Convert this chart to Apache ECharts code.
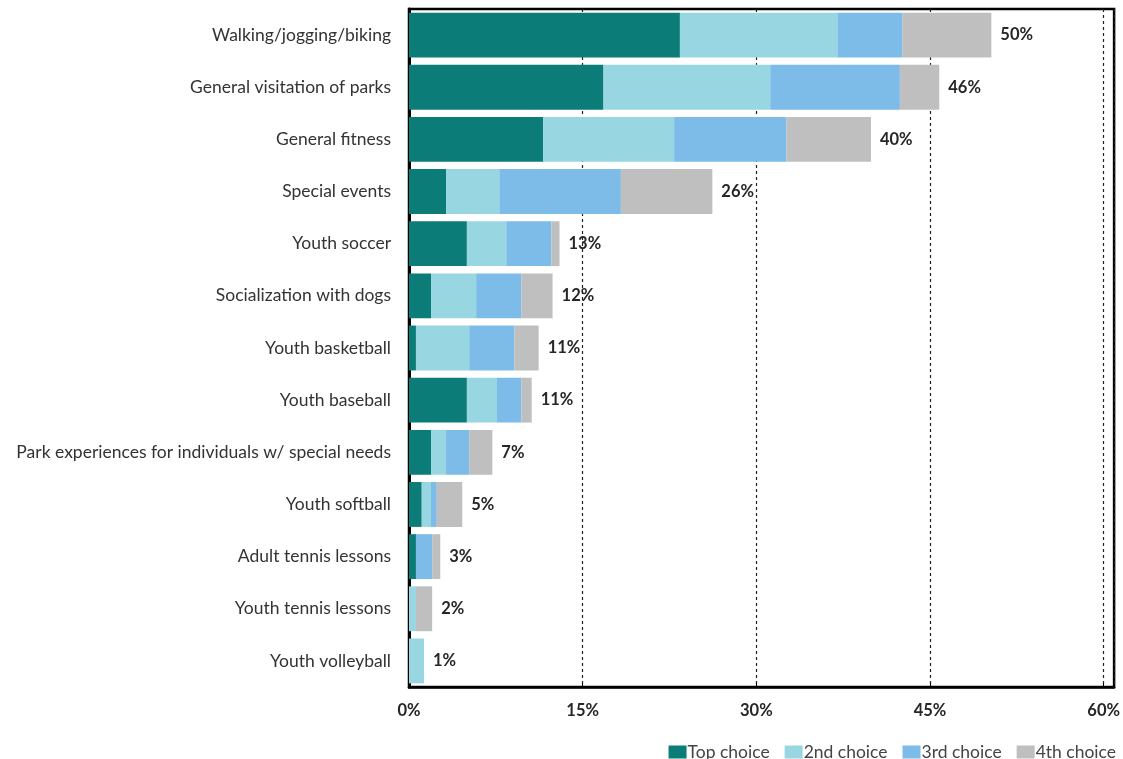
<!DOCTYPE html>
<html>
<head>
<meta charset="utf-8">
<title>Activities by preference</title>
<script src="https://cdn.jsdelivr.net/npm/echarts@6/dist/echarts.min.js"></script>
<style>
  html, body { margin: 0; padding: 0; background: #ffffff; overflow: hidden; }
  #chart { width: 1123px; height: 759px; }
</style>
</head>
<body>
<div id="chart"></div>
<script>
// Activities, listed top to bottom
const categories = [
  'Walking/jogging/biking',
  'General visitation of parks',
  'General fitness',
  'Special events',
  'Youth soccer',
  'Socialization with dogs',
  'Youth basketball',
  'Youth baseball',
  'Park experiences for individuals w/ special needs',
  'Youth softball',
  'Adult tennis lessons',
  'Youth tennis lessons',
  'Youth volleyball'
];

// Share of respondents (%) by rank of choice
const topChoice    = [23.4, 16.8, 11.6, 3.2, 5.0, 1.9, 0.6, 5.0, 1.9, 1.1, 0.6, 0.0, 0.0];
const secondChoice = [13.6, 14.4, 11.3, 4.6, 3.4, 3.9, 4.6, 2.6, 1.3, 0.8, 0.0, 0.6, 1.3];
const thirdChoice  = [ 5.6, 11.2,  9.7, 10.5, 3.9, 3.9, 3.9, 2.1, 2.0, 0.5, 1.4, 0.0, 0.0];
const fourthChoice = [ 7.7,  3.4,  7.3, 7.9, 0.7, 2.7, 2.1, 0.9, 2.0, 2.2, 0.7, 1.4, 0.0];

const seriesNames = ['Top choice', '2nd choice', '3rd choice', '4th choice'];
const seriesColors = ['#0b7c77', '#98d7e2', '#7dbbe9', '#bfbfbf'];

const xTicks = { min: 0, max: 60.9, step: 15 };

const totals = categories.map((_, i) =>
  topChoice[i] + secondChoice[i] + thirdChoice[i] + fourthChoice[i]);

const FONT = 'Lato';

const chart = echarts.init(document.getElementById('chart'), null, {
  renderer: 'canvas', width: 1123, height: 759
});

const valueSeries = [topChoice, secondChoice, thirdChoice, fourthChoice].map((vals, k) => ({
  name: seriesNames[k],
  type: 'bar',
  stack: 'share',
  barCategoryGap: '14%',
  itemStyle: { color: seriesColors[k] },
  emphasis: { disabled: true },
  data: vals
}));

// zero-width cap on each stack carrying the rounded total
const totalSeries = {
  name: 'total',
  type: 'bar',
  stack: 'share',
  silent: true,
  itemStyle: { color: 'transparent' },
  label: {
    show: true,
    position: 'right',
    distance: 9,
    fontFamily: FONT,
    fontWeight: 'bold',
    fontSize: 16.5,
    color: '#262626',
    formatter: p => Math.round(totals[p.dataIndex]) + '%'
  },
  data: categories.map(() => 0)
};

chart.setOption({
  backgroundColor: '#ffffff',
  animation: false,
  grid: {
    left: 409,
    right: 3,
    top: 9,
    bottom: 72,
    show: true,
    borderColor: '#000000',
    borderWidth: 2.5,
    backgroundColor: 'transparent'
  },
  legend: {
    data: seriesNames,
    right: 2,
    top: 738,
    itemWidth: 18,
    itemHeight: 13,
    itemGap: 15,
    icon: 'rect',
    textStyle: { fontFamily: FONT, fontSize: 17.5, color: '#444444', padding: [0, 0, 0, -4] }
  },
  xAxis: {
    type: 'value',
    min: xTicks.min,
    max: xTicks.max,
    interval: xTicks.step,
    axisLine: { show: true, lineStyle: { color: '#000000', width: 2.5 } },
    axisTick: { show: true, inside: true, length: 4, lineStyle: { color: '#000000' } },
    axisLabel: {
      showMaxLabel: false,
      margin: 15,
      fontFamily: FONT,
      fontWeight: 'bold',
      fontSize: 16.5,
      color: '#262626',
      formatter: v => v + '%'
    },
    splitLine: { show: true, lineStyle: { color: '#222222', width: 1.2, type: [3, 3] } }
  },
  yAxis: {
    type: 'category',
    data: categories,
    inverse: true,
    axisLine: { show: true, lineStyle: { color: '#000000', width: 3 } },
    axisTick: { show: false },
    axisLabel: {
      margin: 18,
      fontFamily: FONT,
      fontSize: 17.5,
      color: '#333333'
    }
  },
  series: [...valueSeries, totalSeries]
});
</script>
</body>
</html>
